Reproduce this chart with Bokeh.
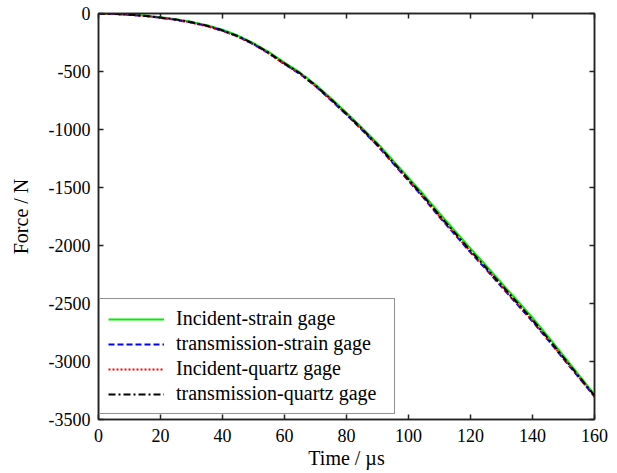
from bokeh.plotting import figure
from bokeh.models import Range1d, FixedTicker, LinearAxis, Legend, LegendItem, CustomLabelingPolicy
from bokeh.embed import file_html
from bokeh.resources import INLINE

# Data
time_us = [0, 5, 10, 15, 20, 25, 30, 35, 40, 45, 50, 55, 60, 65, 70, 75, 80, 85,
           90, 95, 100, 105, 110, 115, 120, 125, 130, 135, 140, 145, 150, 155, 160]
incident_strain = [0, -2, -8, -18, -33, -50, -72, -102, -140, -190, -255, -333, -424, -508,
                   -612, -731, -855, -984, -1118, -1266, -1415, -1565, -1722, -1875, -2025,
                   -2172, -2322, -2472, -2622, -2784, -2950, -3118, -3285]
transmission_strain = [0, -4, -11, -22, -37, -55, -78, -108, -149, -199, -265, -345, -436, -522,
                       -626, -747, -873, -1004, -1140, -1292, -1443, -1594, -1756, -1908, -2060,
                       -2205, -2356, -2506, -2655, -2814, -2978, -3140, -3302]
incident_quartz = [0, -5, -12, -21, -38, -54, -79, -110, -150, -201, -266, -346, -438, -519,
                   -627, -744, -870, -1001, -1137, -1287, -1438, -1588, -1748, -1902, -2052,
                   -2198, -2349, -2499, -2648, -2808, -2972, -3136, -3300]
transmission_quartz = [0, -3, -10, -20, -35, -52, -75, -105, -145, -195, -260, -340, -430, -515,
                       -620, -740, -865, -995, -1130, -1280, -1430, -1580, -1740, -1892, -2045,
                       -2190, -2340, -2490, -2640, -2800, -2965, -3130, -3295]
series_names = ["Incident-strain gage", "transmission-strain gage",
                "Incident-quartz gage", "transmission-quartz gage"]
x_ticks = [0, 20, 40, 60, 80, 100, 120, 140, 160]
y_ticks = [0, -500, -1000, -1500, -2000, -2500, -3000, -3500]
y_tick_labels = ["0", "-500", "-1000", "-1500", "-2000", "-2500", "-3000", "-3500"]
x_label = "Time / \u00b5s"
y_label = "Force / N"

FONT = "Liberation Serif"
TICK_FS = "18px"
LABEL_FS = "20px"

p = figure(width=610, height=472, output_backend="svg", toolbar_location=None,
           x_range=Range1d(0, 160), y_range=Range1d(-3500, 0),
           min_border_left=98, min_border_right=16, min_border_top=13, min_border_bottom=53)
p.xgrid.visible = False
p.ygrid.visible = False
p.outline_line_color = "#222222"
p.outline_line_width = 1.5
p.background_fill_color = "white"
p.border_fill_color = "white"

def style_axis(ax):
    ax.major_tick_in = 5
    ax.major_tick_out = 0
    ax.minor_tick_line_color = None
    ax.axis_line_color = "#222222"
    ax.axis_line_width = 1.5
    ax.major_tick_line_color = "#222222"
    ax.major_tick_line_width = 1.5
    ax.major_label_text_font = FONT
    ax.major_label_text_font_size = TICK_FS
    ax.major_label_text_color = "black"
    ax.axis_label_text_font = FONT
    ax.axis_label_text_font_size = LABEL_FS
    ax.axis_label_text_font_style = "normal"
    ax.axis_label_text_color = "black"

p.xaxis.ticker = FixedTicker(ticks=x_ticks)
p.yaxis.ticker = FixedTicker(ticks=y_ticks)
p.yaxis.major_label_overrides = {t: s for t, s in zip(y_ticks, y_tick_labels)}
p.xaxis.axis_label = x_label
p.yaxis.axis_label = y_label
style_axis(p.xaxis[0])
style_axis(p.yaxis[0])
p.xaxis.major_label_standoff = 9
p.xaxis.axis_label_standoff = 2
p.yaxis.major_label_standoff = 8
p.yaxis.axis_label_standoff = 14

# mirrored tick marks on the top and right sides, without labels
for ticks, side in ((y_ticks, "right"), (x_ticks, "above")):
    ax = LinearAxis(ticker=FixedTicker(ticks=ticks))
    style_axis(ax)
    ax.major_label_policy = CustomLabelingPolicy(code="return new Set()")
    ax.major_label_text_font_size = "0px"
    ax.major_label_standoff = 0
    p.add_layout(ax, side)

r1 = p.line(time_us, incident_strain, line_color="#00ee00", line_width=2)
r2 = p.line(time_us, transmission_strain, line_color="#0000ff", line_width=2, line_dash="6 3")
r3 = p.line(time_us, incident_quartz, line_color="#ff0000", line_width=2, line_dash="2 2")
r4 = p.line(time_us, transmission_quartz, line_color="black", line_width=2, line_dash="7 3 2 3")

legend = Legend(items=[LegendItem(label=n, renderers=[r]) for n, r in
                       zip(series_names, [r1, r2, r3, r4])],
                location=(1, 5))
legend.label_text_font = FONT
legend.label_text_font_size = LABEL_FS
legend.label_text_color = "black"
legend.glyph_width = 56
legend.glyph_height = 20
legend.label_height = 20
legend.label_width = 210
legend.label_standoff = 12
legend.spacing = 2
legend.padding = 8
legend.margin = 0
legend.border_line_color = "#222222"
legend.border_line_width = 1.5
legend.background_fill_alpha = 1
p.add_layout(legend, "center")

open("out.html", "w").write(file_html(p, INLINE))
